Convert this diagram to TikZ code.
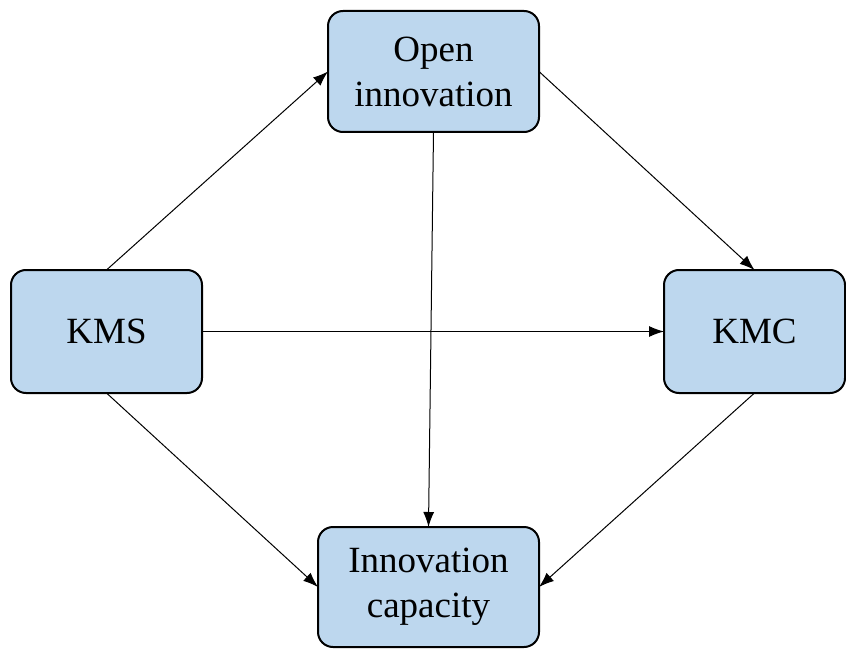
\documentclass[tikz,border=0pt]{standalone}
\usepackage{fontspec}
\setmainfont{Liberation Serif}
\usetikzlibrary{arrows.meta}
\definecolor{boxfill}{HTML}{BDD7EE}
\begin{document}
\begin{tikzpicture}[x=1pt,y=-1pt,
  box/.style={draw=black, line width=2pt, fill=boxfill, rounded corners=15pt,
    align=center, inner sep=0pt, outer sep=0pt,
    font=\fontsize{37}{45}\selectfont},
  conn/.style={line width=1pt, -{Latex[length=15pt,width=11pt]}}]
\useasboundingbox (0,0) rectangle (846,650);
\node[box, minimum width=211pt, minimum height=121pt] (oi) at (433.5,71.5) {Open\\innovation};
\node[box, minimum width=191pt, minimum height=123pt] (kms) at (106.5,331.5) {KMS};
\node[box, minimum width=181pt, minimum height=123pt] (kmc) at (754.5,331.5) {KMC};
\node[box, minimum width=221pt, minimum height=120pt] (ic) at (428.5,587) {Innovation\\capacity};
\draw[conn] (kms.north) -- (oi.west);
\draw[conn] (oi.east) -- (kmc.north);
\draw[conn] (oi.south) -- (ic.north);
\draw[conn] (kms.east) -- (kmc.west);
\draw[conn] (kms.south) -- (ic.west);
\draw[conn] (kmc.south) -- (ic.east);
\end{tikzpicture}
\end{document}
